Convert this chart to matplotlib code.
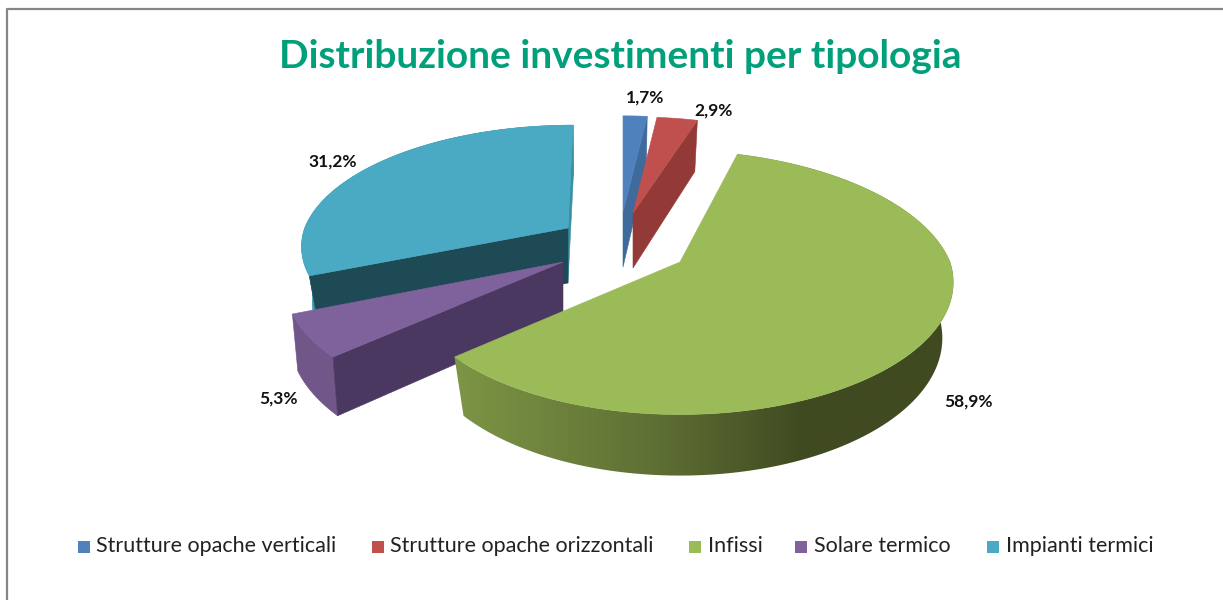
import numpy as np
import matplotlib
matplotlib.use('Agg')
import matplotlib.pyplot as plt
from matplotlib.colors import LinearSegmentedColormap
from matplotlib.patches import Polygon, Rectangle

plt.rcParams['font.family'] = ['Lato', 'DejaVu Sans']

categories = ['Strutture opache verticali', 'Strutture opache orizzontali', 'Infissi',
              'Solare termico', 'Impianti termici']
values = [1.7, 2.9, 58.9, 5.3, 31.2]
title = 'Distribuzione investimenti per tipologia'

top_colors = ['#4F81BD', '#C0504D', '#9BBB59', '#7F619C', '#4AA9C3']
cut_colors = ['#3F6A9C', '#933A38', '#9BBB59', '#4A3860', '#1E4A55']

# apice di ogni fetta esplosa (pixel), scala x/y, inclinazione
apex = [(623, 212), (633, 213), (680, 262), (563, 262), (568, 228)]
scale_x = [0.97, 0.96, 1.0, 1.02, 0.975]
scale_y = [0.86, 0.86, 1.0, 1.0, 0.92]
lower_fx = [0.96, 0.96, 0.96, 0.98, 0.96]
skew = [0.0, 0.0, -0.09, 0.0, 0.05]
label_pos = [(645, 98), (714, 111), (968, 402), (278, 399), (333, 162)]
legend_box_x = [78, 372, 689, 795, 987]
legend_text_x = [96, 390, 708, 814, 1006]

RX, RY, K = 270, 129, 0.154
THICK = 55

green_wall = LinearSegmentedColormap.from_list(
    'green_wall', [(0, '#7E9646'), (0.4, '#5F7034'), (0.7, '#404A21'), (1, '#404A21')])


def project(i, theta, lower=False):
    # prospettiva semplice: il fondo del piatto e' una seconda ellisse
    theta = np.asarray(theta)
    s = 1 / (1 + K * np.cos(theta))
    fx, fy, shift = (lower_fx[i], 1.04, THICK) if lower else (1, 1, 0)
    x = RX * scale_x[i] * fx * np.sin(theta) * s
    y = -RY * scale_y[i] * fy * np.cos(theta) * s
    return apex[i][0] + x - skew[i] * np.minimum(y, 0), apex[i][1] + y + shift


def draw_slice(ax, i, a0, a1, z):
    th = np.linspace(a0, a1, 200)
    ax0, ay0 = apex[i]
    xt, yt = project(i, th)
    xb, yb = project(i, th, lower=True)

    # parete esterna
    wall = list(zip(xt, yt)) + list(zip(xb[::-1], yb[::-1]))
    if i == 2:
        patch = Polygon(wall, closed=True, fc='none', ec='none', zorder=z)
        ax.add_patch(patch)
        im = ax.imshow(np.linspace(0, 1, 256).reshape(1, -1), cmap=green_wall, aspect='auto',
                       extent=(450, 955, 600, 0), zorder=z)
        im.set_clip_path(patch)
    elif i in (3, 4):
        col = '#705689' if i == 3 else '#3F98B0'
        ax.add_patch(Polygon(wall, closed=True, fc=col, ec=col, lw=0.4, zorder=z))

    # pareti di taglio
    if i == 4:
        cuts = [a1, a0]
    elif i == 3:
        cuts = [a0]
    elif i in (0, 1):
        cuts = [a1]
    else:
        cuts = []
    for a in cuts:
        x0, y0 = project(i, a)
        x1, y1 = project(i, a, lower=True)
        col = '#3A8EA5' if (i == 4 and a == a1) else cut_colors[i]
        ax.add_patch(Polygon([(ax0, ay0), (x0, y0), (x1, y1), (ax0, ay0 + THICK)], closed=True,
                             fc=col, ec=col, lw=0.4, zorder=z))

    pts = [(ax0, ay0)] + list(zip(xt, yt))
    ax.add_patch(Polygon(pts, closed=True, fc=top_colors[i], ec=top_colors[i], lw=0.4, zorder=z + 0.05))


def main():
    fig = plt.figure(figsize=(12.23, 6), dpi=100)
    ax = fig.add_axes([0, 0, 1, 1])
    ax.axis('off')

    # cornice del grafico: solo sinistra e sopra
    ax.plot([6.5, 6.5, 1223], [600, 8.5, 8.5], color='#868686', lw=1.6)

    ax.text(620, 56, title, color='#00A07A', fontsize=28, fontweight='bold', ha='center', va='center')

    edges = np.cumsum([0] + values) / sum(values) * 2 * np.pi
    # ogni fetta copre la precedente
    for n, i in enumerate([4, 3, 0, 1, 2]):
        draw_slice(ax, i, edges[i], edges[i + 1], 1 + n * 0.1)

    for v, (x, y) in zip(values, label_pos):
        ax.text(x, y, f'{v:.1f}%'.replace('.', ','), fontsize=12.5, fontweight='bold', color='#111111',
                ha='center', va='center')

    for i, name in enumerate(categories):
        ax.add_patch(Rectangle((legend_box_x[i], 541), 12, 12, fc=top_colors[i], ec='none'))
        ax.text(legend_text_x[i], 546, name, fontsize=15.5, color='#222222', ha='left', va='center')

    ax.set_xlim(0, 1223)
    ax.set_ylim(600, 0)
    fig.savefig('out.png', dpi=100)


if __name__ == '__main__':
    main()
